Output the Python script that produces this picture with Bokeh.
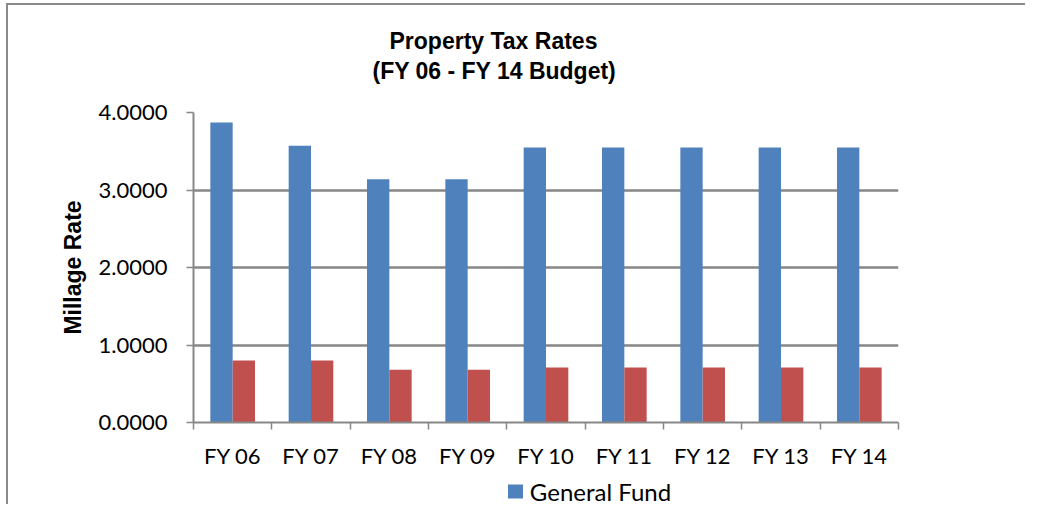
from bokeh.plotting import figure
from bokeh.models import (Range1d, FixedTicker, NumeralTickFormatter, LinearAxis,
                          Title, ColumnDataSource)
from bokeh.transform import dodge
from bokeh.embed import file_html
from bokeh.resources import INLINE

# ---- data ----
categories = ["FY 06", "FY 07", "FY 08", "FY 09", "FY 10", "FY 11", "FY 12", "FY 13", "FY 14"]
general_fund = [3.87, 3.57, 3.14, 3.14, 3.55, 3.55, 3.55, 3.55, 3.55]
second_fund = [0.80, 0.80, 0.68, 0.68, 0.71, 0.71, 0.71, 0.71, 0.71]
y_ticks = [0, 1, 2, 3, 4]
legend_label = "General Fund"

x_pos = [i + 0.5 for i in range(len(categories))]
src = ColumnDataSource(dict(x=x_pos, gf=general_fund, sf=second_fund))

BLUE = "#4F81BD"
RED = "#C0504D"
GRID = "#878787"
CAL = "Lato"

p = figure(frame_width=705, frame_height=310,
           min_border_left=185, min_border_right=133, min_border_top=107, min_border_bottom=88,
           x_range=Range1d(0, len(categories)), y_range=Range1d(0, 4),
           output_backend="svg", toolbar_location=None, tools="")
p.title.text = ""
p.title.visible = False
p.outline_line_color = None
p.background_fill_color = "white"
p.border_fill_color = "white"
p.styles = {"margin-left": "8px", "margin-top": "5px", "background-color": "white",
            "box-shadow": "-4px -4px 0px -2px #8a8a8a"}

bw = 0.285
r_gf = p.vbar(x=dodge("x", -bw / 2, range=p.x_range), top="gf", width=bw, source=src,
              fill_color=BLUE, line_color=None)
r_sf = p.vbar(x=dodge("x", bw / 2, range=p.x_range), top="sf", width=bw, source=src,
              fill_color=RED, line_color=None)

# grid
p.xgrid.visible = False
p.ygrid.grid_line_color = GRID
p.ygrid.grid_line_width = 2.5
p.ygrid.level = "underlay"

# y axis
ya = p.yaxis[0]
ya.ticker = FixedTicker(ticks=y_ticks)
ya.formatter = NumeralTickFormatter(format="0.0000")
ya.axis_line_color = GRID
ya.axis_line_width = 2
ya.major_tick_line_color = GRID
ya.major_tick_line_width = 1.5
ya.major_tick_in = 0
ya.major_tick_out = 7
ya.minor_tick_line_color = None
ya.major_label_text_font = CAL
ya.major_label_text_font_size = "22px"
ya.major_label_text_color = "black"
ya.major_label_standoff = 19
ya.axis_label = "Millage Rate"
ya.axis_label_text_font = "Liberation Sans"
ya.axis_label_text_font_style = "bold"
ya.axis_label_text_font_size = "23px"
ya.axis_label_text_color = "black"
ya.axis_label_standoff = 10

# x axis (labels at category centres, ticks at category boundaries)
xa = p.xaxis[0]
xa.ticker = FixedTicker(ticks=x_pos, minor_ticks=list(range(len(categories) + 1)))
xa.major_label_overrides = {x: c for x, c in zip(x_pos, categories)}
xa.axis_line_color = GRID
xa.axis_line_width = 2
xa.major_tick_line_color = None
xa.major_tick_in = 0
xa.major_tick_out = 0
xa.minor_tick_line_color = GRID
xa.minor_tick_line_width = 1.5
xa.minor_tick_in = 0
xa.minor_tick_out = 7
xa.major_label_text_font = CAL
xa.major_label_text_font_size = "22px"
xa.major_label_text_color = "black"
xa.major_label_standoff = 12

# spacer between the category labels and the legend row
p.add_layout(Title(text=" ", text_font_size="1px", standoff=10), "below")

# legend row: swatch drawn as a thick tick, label as the tick label
unit = 705 / len(categories)           # pixels per category
swatch_x = (514.5 - 193) / unit
label_x = (600 - 193) / unit
leg = LinearAxis(ticker=FixedTicker(ticks=[label_x], minor_ticks=[swatch_x]),
                 major_label_overrides={label_x: legend_label})
leg.axis_line_color = None
leg.major_tick_line_color = None
leg.major_tick_in = 0
leg.major_tick_out = 0
leg.minor_tick_line_color = BLUE
leg.minor_tick_line_width = 15
leg.minor_tick_line_cap = "butt"
leg.minor_tick_in = 0
leg.minor_tick_out = 14
leg.major_label_text_font = CAL
leg.major_label_text_font_size = "24px"
leg.major_label_text_color = "black"
leg.major_label_standoff = -22
p.add_layout(leg, "below")

# two-line title (spacer closest to the plot, then line 2, then line 1)
p.add_layout(Title(text=" ", text_font_size="1px", standoff=26), "above")
p.add_layout(Title(text="(FY 06 - FY 14 Budget)", align="left", offset=179,
                   text_font="Liberation Sans", text_font_style="bold",
                   text_font_size="23px", text_color="black", standoff=0), "above")
p.add_layout(Title(text="Property Tax Rates", align="left", offset=196,
                   text_font="Liberation Sans", text_font_style="bold",
                   text_font_size="23px", text_color="black", standoff=3), "above")

open("out.html", "w").write(file_html(p, INLINE))
